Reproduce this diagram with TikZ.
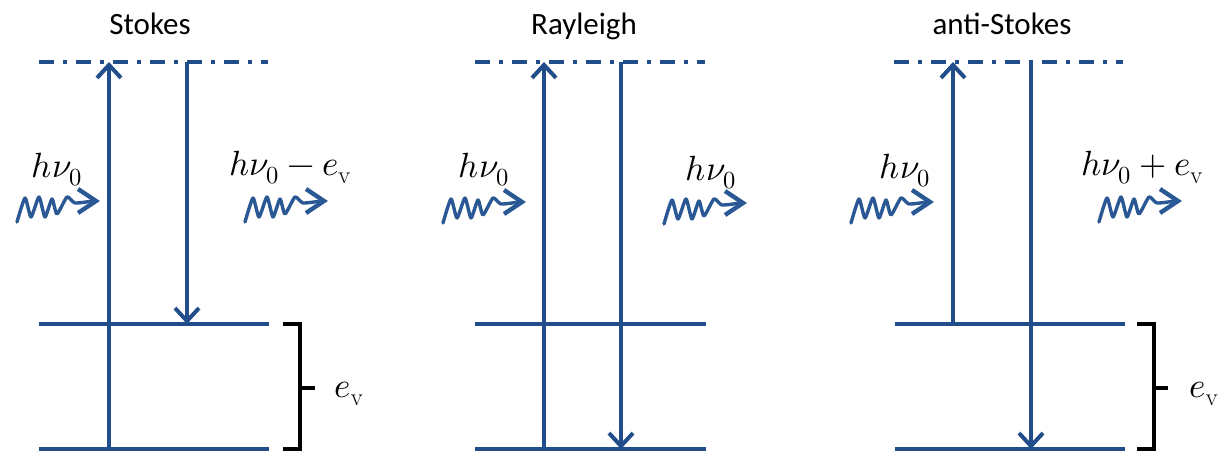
\documentclass[tikz,border=0pt]{standalone}
\usepackage{fontspec}
\usepackage{unicode-math}
\setmathfont{Latin Modern Math}
\newfontfamily\titlefont{Carlito}
\usetikzlibrary{arrows.meta}
\definecolor{lvblue}{RGB}{33,78,138}
\definecolor{wvblue}{RGB}{42,88,148}
\tikzset{
  level/.style={draw=lvblue, line width=4pt},
  virt/.style={draw=lvblue, line width=4.6pt, dash pattern=on 15pt off 9pt on 4pt off 9pt},
  trans/.style={draw=lvblue, line width=4.4pt, -{Straight Barb[length=13pt,width=24pt,line width=4pt]}},
  brace/.style={draw=black, line width=3.6pt},
  title/.style={font=\titlefont\fontsize{31}{34}\selectfont, anchor=base},
  lab/.style={font=\fontsize{35}{38}\selectfont, anchor=base},
  wave/.pic={
    \draw[wvblue, line width=3.4pt, line join=round, line cap=round]
      plot[smooth, tension=0.35] coordinates {(0,0) (8,-24) (14,-5) (22,-25) (28,-5) (35,-23) (40,-8) (50,-25) (58,-19) (76,-21)};
    \draw[wvblue, line width=4.4pt, line join=miter] (61,-33) -- (79,-21) -- (61,-9);
  }
}
\begin{document}
\begin{tikzpicture}[x=1pt,y=-1pt]
\useasboundingbox (0,0) rectangle (1227,452);

% ---------- Stokes ----------
\node[title] (tS) at (150,35) {Stokes};
\coordinate (S-vl) at (39,62);  \coordinate (S-vr) at (268,62);
\coordinate (S-1l) at (39,324); \coordinate (S-1r) at (269,324);
\coordinate (S-0l) at (39,449); \coordinate (S-0r) at (269,449);
\coordinate (S-ub) at (109,449); \coordinate (S-ut) at (109,62);
\coordinate (S-dt) at (187,62);  \coordinate (S-db) at (187,324);
\draw[virt] (S-vl) -- (S-vr);
\draw[level] (S-1l) -- (S-1r);
\draw[level] (S-0l) -- (S-0r);
\draw[trans] (S-ub) -- (S-ut);
\draw[trans] (S-dt) -- (S-db);
\node[lab] (S-in) at (57,177) {$h\nu_0$};
\node[lab] (S-out) at (290,175) {$h\nu_0-e_{\mathrm{v}}$};
\pic at (17,222) {wave};
\pic at (245,222) {wave};
\coordinate (S-b1) at (283,324); \coordinate (S-b2) at (300,324);
\coordinate (S-b3) at (300,449); \coordinate (S-b4) at (283,449);
\coordinate (S-bm) at (300,388); \coordinate (S-bt) at (315,388);
\draw[brace] (S-b1) -- (S-b2) -- (S-b3) -- (S-b4);
\draw[brace] (S-bm) -- (S-bt);
\node[lab, anchor=base west] (S-ev) at (331,397) {$e_{\mathrm{v}}$};

% ---------- Rayleigh ----------
\node[title] (tR) at (584,35) {Rayleigh};
\coordinate (R-vl) at (475,62);  \coordinate (R-vr) at (705,62);
\coordinate (R-1l) at (475,324); \coordinate (R-1r) at (706,324);
\coordinate (R-0l) at (475,449); \coordinate (R-0r) at (706,449);
\coordinate (R-ub) at (544,449); \coordinate (R-ut) at (544,62);
\coordinate (R-dt) at (621,62);  \coordinate (R-db) at (621,449);
\draw[virt] (R-vl) -- (R-vr);
\draw[level] (R-1l) -- (R-1r);
\draw[level] (R-0l) -- (R-0r);
\draw[trans] (R-ub) -- (R-ut);
\draw[trans] (R-dt) -- (R-db);
\node[lab] (R-in) at (484,177) {$h\nu_0$};
\node[lab] (R-out) at (711,180) {$h\nu_0$};
\pic at (443,223) {wave};
\pic at (664,224) {wave};

% ---------- anti-Stokes ----------
\node[title] (tA) at (1002,35) {anti-Stokes};
\coordinate (A-vl) at (894,62);  \coordinate (A-vr) at (1123,62);
\coordinate (A-1l) at (895,324); \coordinate (A-1r) at (1125,324);
\coordinate (A-0l) at (895,449); \coordinate (A-0r) at (1125,449);
\coordinate (A-ub) at (953,324); \coordinate (A-ut) at (953,62);
\coordinate (A-dt) at (1031,62); \coordinate (A-db) at (1031,449);
\draw[virt] (A-vl) -- (A-vr);
\draw[level] (A-1l) -- (A-1r);
\draw[level] (A-0l) -- (A-0r);
\draw[trans] (A-ub) -- (A-ut);
\draw[trans] (A-dt) -- (A-db);
\node[lab] (A-in) at (905,178) {$h\nu_0$};
\node[lab] (A-out) at (1142,175) {$h\nu_0+e_{\mathrm{v}}$};
\pic at (851,223) {wave};
\pic at (1099,222) {wave};
\coordinate (A-b1) at (1137,324); \coordinate (A-b2) at (1154,324);
\coordinate (A-b3) at (1154,449); \coordinate (A-b4) at (1137,449);
\coordinate (A-bm) at (1154,388); \coordinate (A-bt) at (1168,388);
\draw[brace] (A-b1) -- (A-b2) -- (A-b3) -- (A-b4);
\draw[brace] (A-bm) -- (A-bt);
\node[lab, anchor=base west] (A-ev) at (1186,397) {$e_{\mathrm{v}}$};
\end{tikzpicture}
\end{document}
